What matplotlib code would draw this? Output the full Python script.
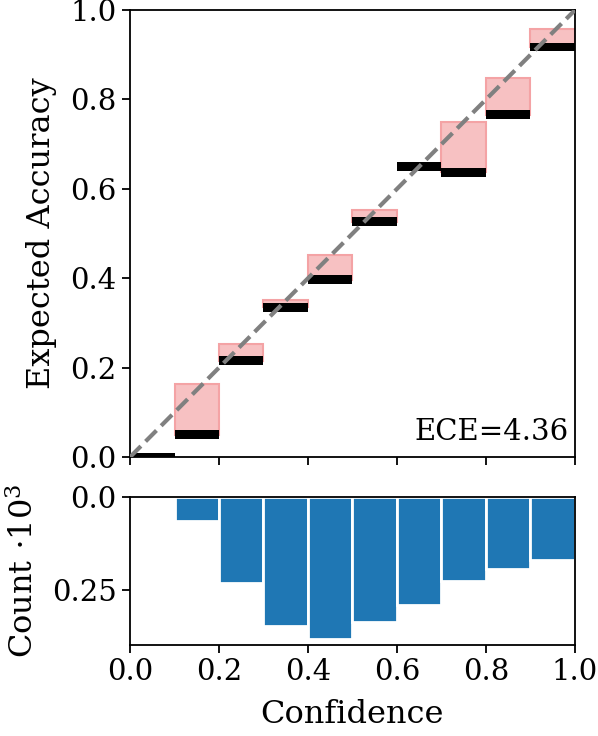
import numpy as np
import matplotlib
matplotlib.use("Agg")
import matplotlib.pyplot as plt

# per-bin values
bin_left = [0.0, 0.1, 0.2, 0.3, 0.4, 0.5, 0.6, 0.7, 0.8, 0.9]
accuracy = [0.0, 0.05, 0.216, 0.335, 0.397, 0.527, 0.650, 0.637, 0.766, 0.917]
confidence = [0.0, 0.163, 0.2535, 0.352, 0.4526, 0.552, 0.648, 0.749, 0.847, 0.957]
counts_k = [0.0, 0.064, 0.232, 0.346, 0.382, 0.335, 0.29, 0.225, 0.194, 0.170]
ece_text = "ECE=4.36"

plt.rcParams['font.family'] = ['DejaVu Serif']
plt.rcParams['mathtext.fontset'] = 'dejavuserif'
plt.rcParams['axes.linewidth'] = 1.3
plt.rcParams['xtick.major.width'] = 1.3
plt.rcParams['ytick.major.width'] = 1.3
plt.rcParams['xtick.major.size'] = 6
plt.rcParams['ytick.major.size'] = 6


def plotReliability(ax):
    """
    Gap boxes, accuracy bars and the identity line
    """
    acc = np.array(accuracy)
    conf = np.array(confidence)
    ax.bar(bin_left, conf - acc, bottom=acc, width=0.1, align='edge',
           facecolor='#f7c1c2', edgecolor='#f4a3a5', linewidth=1.5, zorder=2)
    ax.bar(bin_left, 0.019, bottom=acc - 0.0095, width=0.1, align='edge',
           color='black', linewidth=0, zorder=3)
    ax.plot([0, 1], [0, 1], '--', color='gray', linewidth=3, zorder=4)
    ax.set_xlim(0, 1)
    ax.set_ylim(0, 1)
    ax.set_xticks(np.arange(0, 1.01, 0.2))
    ax.tick_params(labelbottom=False, labelsize=21)
    ax.set_ylabel("Expected Accuracy", fontsize=23, labelpad=10)
    ax.text(0.985, 0.025, ece_text, transform=ax.transAxes, ha='right',
            va='bottom', fontsize=21)


def plotCounts(ax):
    """
    Inverted histogram of samples per bin
    """
    ax.bar(bin_left, counts_k, width=0.1, align='edge', color='#1f77b4',
           edgecolor='white', linewidth=2)
    ax.set_xlim(0, 1)
    ax.set_ylim(0.398, 0)
    ax.set_yticks([0.0, 0.25])
    ax.set_yticklabels(["0.0", "0.25"])
    ax.set_xticks(np.arange(0, 1.01, 0.2))
    ax.tick_params(labelsize=21)
    ax.set_xlabel("Confidence", fontsize=23, labelpad=9)
    ax.set_ylabel(r"Count $\cdot10^3$", fontsize=23, labelpad=9)


fig = plt.figure(figsize=(5.98, 7.36), dpi=100)
ax1 = fig.add_axes([0.2174, 0.379, 0.7441, 0.6073])
ax2 = fig.add_axes([0.2174, 0.1236, 0.7441, 0.2011])
plotReliability(ax1)
plotCounts(ax2)
fig.savefig("out.png", dpi=100)
